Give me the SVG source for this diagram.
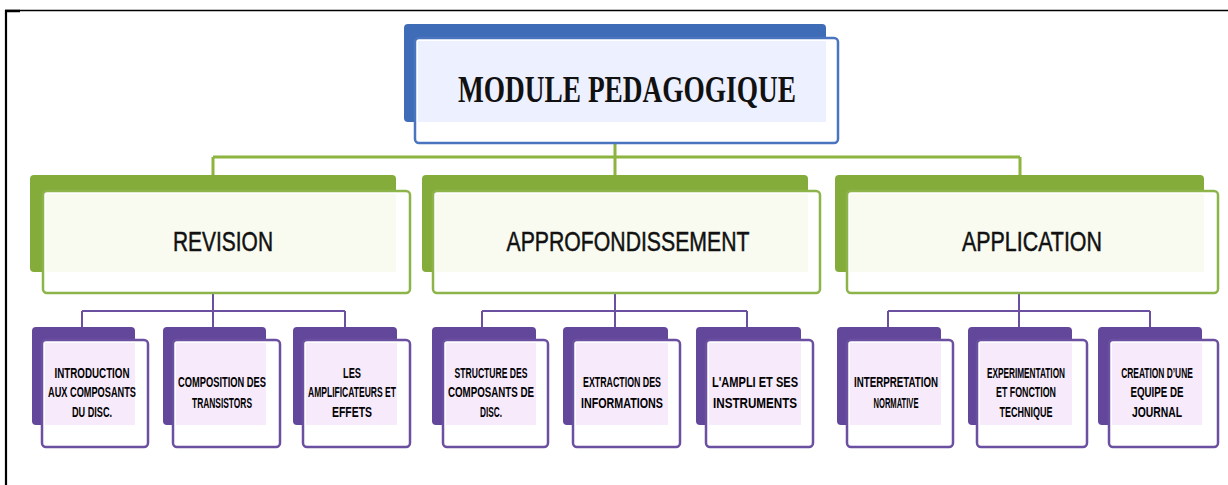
<svg xmlns="http://www.w3.org/2000/svg" width="1228" height="485" viewBox="0 0 1228 485">
  <style>
    .frame { stroke: #000; fill: none; }
    .blue-back { fill: #3f6cb6; }
    .blue-front { fill: #fff; stroke: #4a74c0; stroke-width: 2.5; }
    .blue-tint { fill: #edf0ff; }
    .green-back { fill: #84ac3a; }
    .green-front { fill: #fff; stroke: #8db44a; stroke-width: 2.5; }
    .green-tint { fill: #f9fbf0; }
    .purple-back { fill: #62479a; }
    .purple-front { fill: #fff; stroke: #6b50a2; stroke-width: 2.5; }
    .purple-tint { fill: #f7eafb; }
    .g-link { stroke: #8cb43e; stroke-width: 3; fill: none; }
    .p-link { stroke: #6b50a2; stroke-width: 2; fill: none; }
    .title { font-family: "Liberation Serif", serif; font-weight: bold; font-size: 38px; fill: #111; text-anchor: middle; }
    .l2 { font-family: "Liberation Sans", sans-serif; font-size: 28px; fill: #111; stroke: #111; stroke-width: 0.5; text-anchor: middle; }
    .l3 { font-family: "Liberation Sans", sans-serif; font-weight: bold; font-size: 14px; fill: #000; text-anchor: middle; }
  </style>

  <!-- page frame: top rule and left rule -->
  <g id="frame">
    <line class="frame" x1="5" y1="10.5" x2="1228" y2="10.5" stroke-width="1.5"/>
    <line class="frame" x1="6" y1="10" x2="6" y2="485" stroke-width="2.2"/>
    <line class="frame" x1="5" y1="11" x2="20" y2="11" stroke-width="2.5"/>
  </g>

  <!-- connectors -->
  <g id="connectors">
    <path class="g-link" d="M615 143 V157 M213 157 H1020 M213 157 V177 M615 157 V177 M1020 157 V177"/>
    <path class="p-link" d="M213 293 V311 M82 311 H345 M82 311 V328 M213 311 V328 M345 311 V328"/>
    <path class="p-link" d="M615 293 V311 M482 311 H747 M482 311 V328 M615 311 V328 M747 311 V328"/>
    <path class="p-link" d="M1019 293 V311 M888 311 H1150 M888 311 V328 M1019 311 V328 M1150 311 V328"/>
  </g>

  <!-- top node -->
  <g id="module-pedagogique">
    <rect class="blue-back" x="404" y="24" width="422" height="98" rx="4"/>
    <rect class="blue-front" x="415" y="38" width="423" height="105" rx="4"/>
    <rect class="blue-tint" x="418" y="41" width="408" height="81"/>
    <text class="title" x="627" y="102" textLength="338" lengthAdjust="spacingAndGlyphs">MODULE PEDAGOGIQUE</text>
  </g>

  <!-- second level -->
  <g id="revision">
    <rect class="green-back" x="30" y="175" width="366" height="97" rx="4"/>
    <rect class="green-front" x="43" y="191" width="367" height="102" rx="4"/>
    <rect class="green-tint" x="46" y="194" width="350" height="78"/>
    <text class="l2" x="223" y="251" textLength="100" lengthAdjust="spacingAndGlyphs">REVISION</text>
  </g>
  <g id="approfondissement">
    <rect class="green-back" x="422" y="175" width="386" height="97" rx="4"/>
    <rect class="green-front" x="433" y="191" width="387" height="102" rx="4"/>
    <rect class="green-tint" x="436" y="194" width="372" height="78"/>
    <text class="l2" x="628" y="251" textLength="243" lengthAdjust="spacingAndGlyphs">APPROFONDISSEMENT</text>
  </g>
  <g id="application">
    <rect class="green-back" x="835" y="175" width="369" height="97" rx="4"/>
    <rect class="green-front" x="847" y="191" width="371" height="102" rx="4"/>
    <rect class="green-tint" x="850" y="194" width="354" height="78"/>
    <text class="l2" x="1032" y="251" textLength="140" lengthAdjust="spacingAndGlyphs">APPLICATION</text>
  </g>

  <!-- third level: revision -->
  <g id="rev-1">
    <rect class="purple-back" x="32" y="327" width="103" height="98" rx="4"/>
    <rect class="purple-front" x="42" y="340" width="106" height="107" rx="4"/>
    <rect class="purple-tint" x="45" y="343" width="90" height="82"/>
    <text class="l3" x="92" y="378" textLength="75" lengthAdjust="spacingAndGlyphs">INTRODUCTION</text>
    <text class="l3" x="92" y="397" textLength="88" lengthAdjust="spacingAndGlyphs">AUX COMPOSANTS</text>
    <text class="l3" x="92" y="417" textLength="40" lengthAdjust="spacingAndGlyphs">DU DISC.</text>
  </g>
  <g id="rev-2">
    <rect class="purple-back" x="163" y="327" width="103" height="98" rx="4"/>
    <rect class="purple-front" x="173" y="340" width="107" height="107" rx="4"/>
    <rect class="purple-tint" x="176" y="343" width="90" height="82"/>
    <text class="l3" x="222" y="387" textLength="88" lengthAdjust="spacingAndGlyphs">COMPOSITION DES</text>
    <text class="l3" x="222" y="408" textLength="60" lengthAdjust="spacingAndGlyphs">TRANSISTORS</text>
  </g>
  <g id="rev-3">
    <rect class="purple-back" x="293" y="327" width="104" height="98" rx="4"/>
    <rect class="purple-front" x="303" y="340" width="107" height="107" rx="4"/>
    <rect class="purple-tint" x="306" y="343" width="91" height="82"/>
    <text class="l3" x="352" y="378" textLength="18" lengthAdjust="spacingAndGlyphs">LES</text>
    <text class="l3" x="352" y="397" textLength="88" lengthAdjust="spacingAndGlyphs">AMPLIFICATEURS ET</text>
    <text class="l3" x="352" y="417" textLength="40" lengthAdjust="spacingAndGlyphs">EFFETS</text>
  </g>

  <!-- third level: approfondissement -->
  <g id="app-1">
    <rect class="purple-back" x="432" y="327" width="104" height="98" rx="4"/>
    <rect class="purple-front" x="443" y="340" width="105" height="107" rx="4"/>
    <rect class="purple-tint" x="446" y="343" width="90" height="82"/>
    <text class="l3" x="491" y="378" textLength="73" lengthAdjust="spacingAndGlyphs">STRUCTURE DES</text>
    <text class="l3" x="491" y="397" textLength="86" lengthAdjust="spacingAndGlyphs">COMPOSANTS DE</text>
    <text class="l3" x="491" y="417" textLength="22" lengthAdjust="spacingAndGlyphs">DISC.</text>
  </g>
  <g id="app-2">
    <rect class="purple-back" x="563" y="327" width="105" height="98" rx="4"/>
    <rect class="purple-front" x="573" y="340" width="107" height="107" rx="4"/>
    <rect class="purple-tint" x="576" y="343" width="92" height="82"/>
    <text class="l3" x="622" y="387" textLength="78" lengthAdjust="spacingAndGlyphs">EXTRACTION DES</text>
    <text class="l3" x="622" y="408" textLength="82" lengthAdjust="spacingAndGlyphs">INFORMATIONS</text>
  </g>
  <g id="app-3">
    <rect class="purple-back" x="696" y="327" width="105" height="98" rx="4"/>
    <rect class="purple-front" x="706" y="340" width="107" height="107" rx="4"/>
    <rect class="purple-tint" x="709" y="343" width="92" height="82"/>
    <text class="l3" x="755" y="387" textLength="86" lengthAdjust="spacingAndGlyphs">L'AMPLI ET SES</text>
    <text class="l3" x="755" y="408" textLength="84" lengthAdjust="spacingAndGlyphs">INSTRUMENTS</text>
  </g>

  <!-- third level: application -->
  <g id="apl-1">
    <rect class="purple-back" x="837" y="327" width="104" height="98" rx="4"/>
    <rect class="purple-front" x="847" y="340" width="106" height="107" rx="4"/>
    <rect class="purple-tint" x="850" y="343" width="91" height="82"/>
    <text class="l3" x="896" y="387" textLength="84" lengthAdjust="spacingAndGlyphs">INTERPRETATION</text>
    <text class="l3" x="896" y="408" textLength="45" lengthAdjust="spacingAndGlyphs">NORMATIVE</text>
  </g>
  <g id="apl-2">
    <rect class="purple-back" x="968" y="327" width="104" height="98" rx="4"/>
    <rect class="purple-front" x="977" y="340" width="110" height="107" rx="4"/>
    <rect class="purple-tint" x="980" y="343" width="92" height="82"/>
    <text class="l3" x="1026" y="378" textLength="78" lengthAdjust="spacingAndGlyphs">EXPERIMENTATION</text>
    <text class="l3" x="1026" y="397" textLength="60" lengthAdjust="spacingAndGlyphs">ET FONCTION</text>
    <text class="l3" x="1026" y="417" textLength="53" lengthAdjust="spacingAndGlyphs">TECHNIQUE</text>
  </g>
  <g id="apl-3">
    <rect class="purple-back" x="1098" y="327" width="104" height="98" rx="4"/>
    <rect class="purple-front" x="1109" y="340" width="109" height="107" rx="4"/>
    <rect class="purple-tint" x="1112" y="343" width="90" height="82"/>
    <text class="l3" transform="translate(1157 378) scale(0.6 1)" x="0" y="0">CREATION D’UNE</text>
    <text class="l3" x="1157" y="397" textLength="53" lengthAdjust="spacingAndGlyphs">EQUIPE DE</text>
    <text class="l3" x="1157" y="417" textLength="50" lengthAdjust="spacingAndGlyphs">JOURNAL</text>
  </g>
</svg>
